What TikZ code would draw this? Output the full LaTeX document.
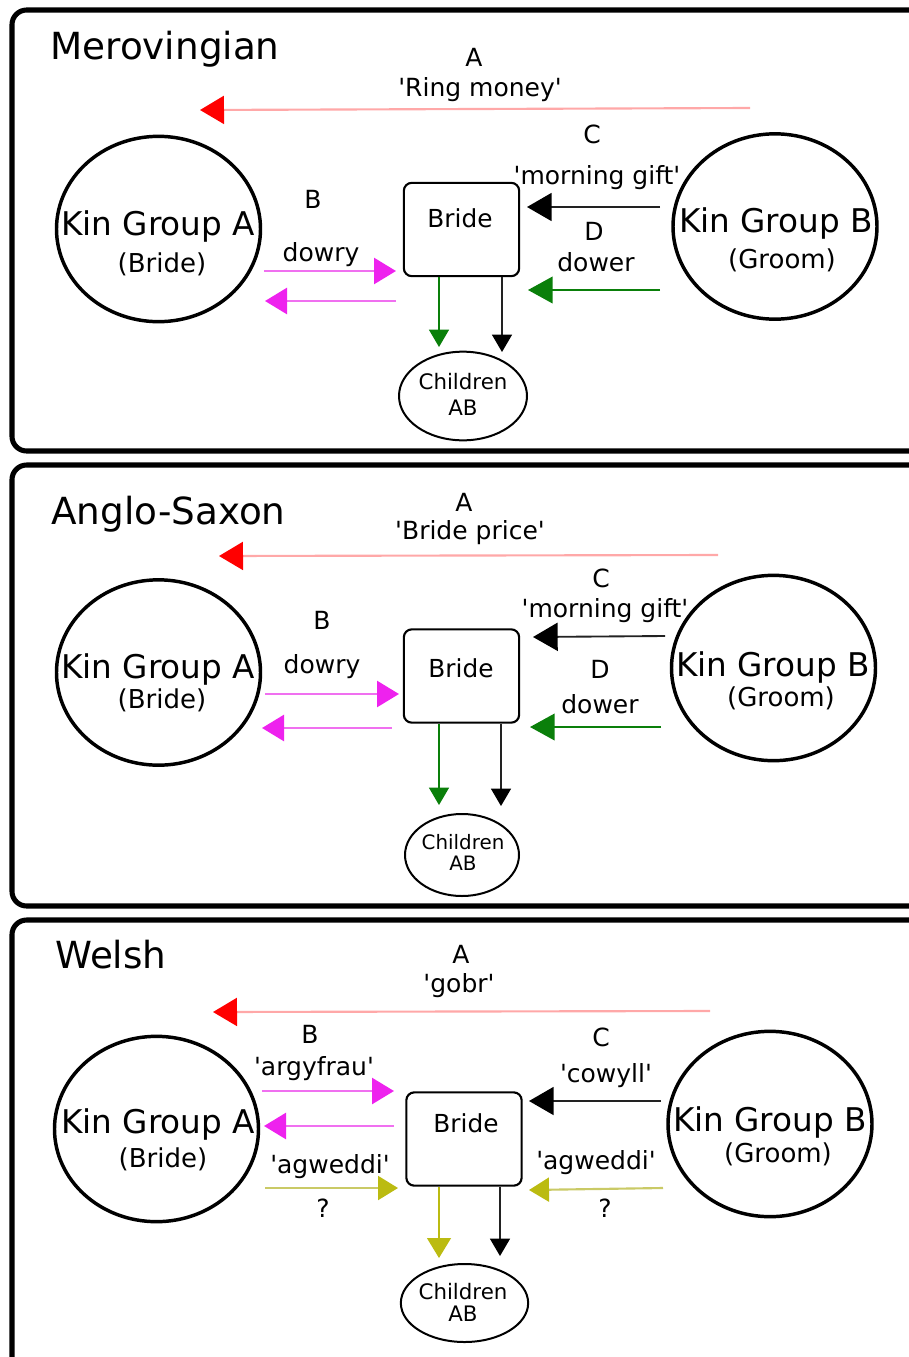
\documentclass[tikz,border=0pt]{standalone}
\usepackage{fontspec}
\setmainfont{DejaVu Sans}[Ligatures=TeXOff]
\usetikzlibrary{arrows.meta,shapes.geometric}

\definecolor{tipred}{HTML}{FF0000}
\definecolor{linered}{HTML}{FFA8A8}
\definecolor{magtip}{HTML}{EE22EE}
\definecolor{magline}{HTML}{F070F0}
\definecolor{grn}{HTML}{0A7F0A}
\definecolor{olvtip}{HTML}{BBBB11}
\definecolor{olvline}{HTML}{CACA66}
\definecolor{dark}{HTML}{222222}

\tikzset{
  panel/.style={draw, line width=3.8pt, rounded corners=11pt},
  kin/.style={ellipse, draw, line width=2.6pt, inner sep=0pt,
    minimum width=153pt, minimum height=139pt},
  bridebox/.style={draw, line width=1.6pt, rounded corners=6pt, inner sep=0pt,
    minimum width=86.5pt, minimum height=70pt},
  kids/.style={ellipse, draw, line width=1.5pt, inner sep=0pt},
  ttl/.style={anchor=base west, inner sep=0pt, font=\fontsize{28}{32}\selectfont},
  kinlbl/.style={anchor=base, inner sep=0pt, font=\fontsize{24.5}{28}\selectfont},
  sublbl/.style={anchor=base, inner sep=0pt, font=\fontsize{19.5}{22}\selectfont},
  lbl/.style={anchor=base, inner sep=0pt, font=\fontsize{18.75}{22}\selectfont},
  bridelbl/.style={anchor=base, inner sep=0pt, font=\fontsize{18.6}{22}\selectfont},
  kidlbl/.style={anchor=base, inner sep=0pt, font=\fontsize{16}{18}\selectfont},
  kidlblsm/.style={anchor=base, inner sep=0pt, font=\fontsize{14.9}{17}\selectfont},
  redflow/.style={draw=linered, line width=1.6pt,
    -{Triangle[length=18pt,width=21pt,color=tipred]}},
  magflow/.style={draw=magline, line width=2pt,
    -{Triangle[length=16.5pt,width=19.5pt,color=magtip]}},
  blkflow/.style={draw=dark, line width=1.4pt,
    -{Triangle[length=18.5pt,width=21pt,color=black]}},
  grnflow/.style={draw=grn, line width=1.4pt,
    -{Triangle[length=18.5pt,width=20pt,color=grn]}},
  olvflow/.style={draw=olvline, line width=1.6pt,
    -{Triangle[length=15pt,width=18pt,color=olvtip]}},
  grndrop/.style={draw=grn, line width=0.9pt,
    -{Triangle[length=13pt,width=15pt,color=grn]}},
  blkdrop/.style={draw=dark, line width=0.9pt,
    -{Triangle[length=13pt,width=15pt,color=black]}},
  olvdrop/.style={draw=olvtip, line width=0.9pt,
    -{Triangle[length=15pt,width=18pt,color=olvtip]}},
}

\begin{document}
\begin{tikzpicture}[x=0.75pt,y=-0.75pt]
\useasboundingbox (0,0) rectangle (909,1357);
\clip (0,0) rectangle (909,1357);

% ---------------- Merovingian ----------------
\draw[panel] (12,10) rectangle (960,451);
\node[ttl] (t1) at (50,59) {Merovingian};

\node[kin] (ka1) at (158.5,229) {};
\node[kinlbl] (ka1t) at (158,235) {Kin Group A};
\node[sublbl] (ka1s) at (162,272) {(Bride)};
\node[kin] (kb1) at (775,226.5) {};
\node[kinlbl] (kb1t) at (776,232) {Kin Group B};
\node[sublbl] (kb1s) at (782,268) {(Groom)};

\node[bridebox] (b1) at (461.5,229.5) {};
\node[bridelbl] (b1t) at (460,227) {Bride};
\node[kids, minimum width=96pt, minimum height=66.5pt] (c1) at (463,396) {};
\node[kidlbl] (c1t) at (463,389) {Children};
\node[kidlbl] (c1u) at (463,415) {AB};

\node[lbl] (a1) at (474,66) {A};
\node[lbl] (a1n) at (480,96) {'Ring money'};
\node[lbl] (bb1) at (313,208) {B};
\node[lbl] (bb1n) at (321,261) {dowry};
\node[lbl] (cc1) at (592,143) {C};
\node[lbl] (cc1n) at (597,184) {'morning gift'};
\node[lbl] (d1) at (594,240) {D};
\node[lbl] (d1n) at (596,271) {dower};

\coordinate (r1s) at (750,108);   \coordinate (r1e) at (200,110);
\coordinate (m1s) at (264,271);   \coordinate (m1e) at (396,271);
\coordinate (n1s) at (396,301);   \coordinate (n1e) at (265,301);
\coordinate (k1s) at (660,207);   \coordinate (k1e) at (527,207);
\coordinate (g1s) at (660,290);   \coordinate (g1e) at (528,290);
\coordinate (gd1e) at (439,347);  \coordinate (kd1e) at (502,352);
\draw[redflow] (r1s) -- (r1e);
\draw[magflow] (m1s) -- (m1e);
\draw[magflow] (n1s) -- (n1e);
\draw[blkflow] (k1s) -- (k1e);
\draw[grnflow] (g1s) -- (g1e);
\draw[grndrop] (b1.south -| gd1e) -- (gd1e);
\draw[blkdrop] (b1.south -| kd1e) -- (kd1e);

% ---------------- Anglo-Saxon ----------------
\draw[panel] (12,465) rectangle (960,906);
\node[ttl] (t2) at (51,524) {Anglo-Saxon};

\node[kin] (ka2) at (158.5,672.5) {};
\node[kinlbl] (ka2t) at (158,678) {Kin Group A};
\node[sublbl] (ka2s) at (162,708) {(Bride)};
\node[kin] (kb2) at (773.5,668) {};
\node[kinlbl] (kb2t) at (773,676) {Kin Group B};
\node[sublbl] (kb2s) at (781,706) {(Groom)};

\node[bridebox] (b2) at (461.5,676) {};
\node[bridelbl] (b2t) at (461,677) {Bride};
\node[kids, minimum width=85.5pt, minimum height=61.5pt] (c2) at (462,855) {};
\node[kidlblsm] (c2t) at (463,849) {Children};
\node[kidlblsm] (c2u) at (463,870) {AB};

\node[lbl] (a2) at (464,511) {A};
\node[lbl] (a2n) at (470,539) {'Bride price'};
\node[lbl] (bb2) at (322,629) {B};
\node[lbl] (bb2n) at (322,673) {dowry};
\node[lbl] (cc2) at (601,587) {C};
\node[lbl] (cc2n) at (605,617) {'morning gift'};
\node[lbl] (d2) at (600,678) {D};
\node[lbl] (d2n) at (600,713) {dower};

\coordinate (r2s) at (718,555);   \coordinate (r2e) at (219,556);
\coordinate (m2s) at (265,694);   \coordinate (m2e) at (399,694);
\coordinate (n2s) at (392,728);   \coordinate (n2e) at (262,728);
\coordinate (k2s) at (665,636);   \coordinate (k2e) at (533,637);
\coordinate (g2s) at (661,727);   \coordinate (g2e) at (530,727);
\coordinate (gd2e) at (439,805);  \coordinate (kd2e) at (501,806);
\draw[redflow] (r2s) -- (r2e);
\draw[magflow] (m2s) -- (m2e);
\draw[magflow] (n2s) -- (n2e);
\draw[blkflow] (k2s) -- (k2e);
\draw[grnflow] (g2s) -- (g2e);
\draw[grndrop] (b2.south -| gd2e) -- (gd2e);
\draw[blkdrop] (b2.south -| kd2e) -- (kd2e);

% ---------------- Welsh ----------------
\draw[panel] (12,920) rectangle (960,1420);
\node[ttl] (t3) at (55,968) {Welsh};

\node[kin] (ka3) at (156.5,1129) {};
\node[kinlbl] (ka3t) at (158,1133) {Kin Group A};
\node[sublbl] (ka3s) at (163,1167) {(Bride)};
\node[kin] (kb3) at (770,1124) {};
\node[kinlbl] (kb3t) at (770,1131) {Kin Group B};
\node[sublbl] (kb3s) at (778,1162) {(Groom)};

\node[bridebox] (b3) at (464,1139) {};
\node[bridelbl] (b3t) at (466,1132) {Bride};
\node[kids, minimum width=95.5pt, minimum height=58.5pt] (c3) at (464.5,1303) {};
\node[kidlbl] (c3t) at (463,1299) {Children};
\node[kidlbl] (c3u) at (463,1321) {AB};

\node[lbl] (a3) at (461,963) {A};
\node[lbl] (a3n) at (459,992) {'gobr'};
\node[lbl] (bb3) at (310,1043) {B};
\node[lbl] (bb3n) at (314,1075) {'argyfrau'};
\node[lbl] (cc3) at (601,1046) {C};
\node[lbl] (cc3n) at (606,1082) {'cowyll'};
\node[lbl] (w3l) at (330,1173) {'agweddi'};
\node[lbl] (q3l) at (323,1217) {?};
\node[lbl] (w3r) at (596,1169) {'agweddi'};
\node[lbl] (q3r) at (605,1217) {?};

\coordinate (r3s) at (710,1011);  \coordinate (r3e) at (213,1012);
\coordinate (m3s) at (262,1091);  \coordinate (m3e) at (394,1091);
\coordinate (n3s) at (394,1126);  \coordinate (n3e) at (264,1126);
\coordinate (k3s) at (661,1101);  \coordinate (k3e) at (529,1101);
\coordinate (o3s) at (265,1188);  \coordinate (o3e) at (398,1188);
\coordinate (p3s) at (663,1188);  \coordinate (p3e) at (529,1190);
\coordinate (od3e) at (439,1258); \coordinate (kd3e) at (500,1256);
\draw[redflow] (r3s) -- (r3e);
\draw[magflow] (m3s) -- (m3e);
\draw[magflow] (n3s) -- (n3e);
\draw[blkflow] (k3s) -- (k3e);
\draw[olvflow] (o3s) -- (o3e);
\draw[olvflow] (p3s) -- (p3e);
\draw[olvdrop] (b3.south -| od3e) -- (od3e);
\draw[blkdrop] (b3.south -| kd3e) -- (kd3e);
\end{tikzpicture}
\end{document}
